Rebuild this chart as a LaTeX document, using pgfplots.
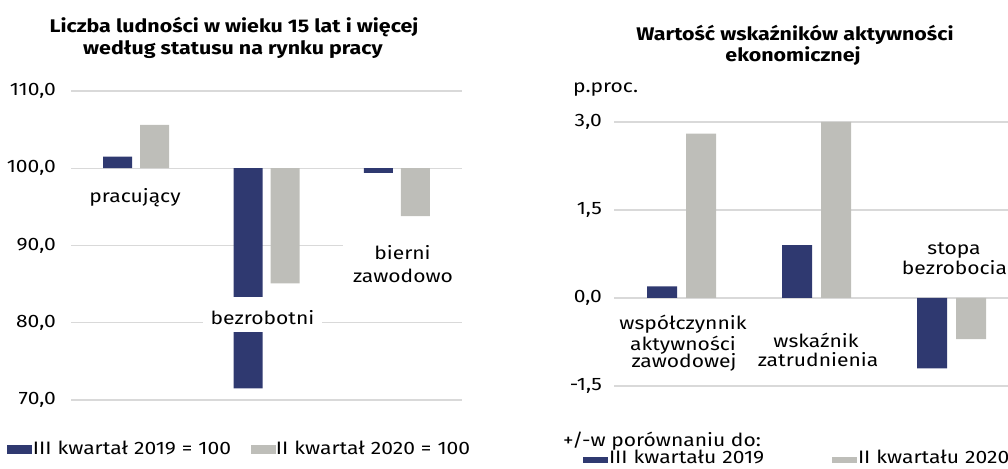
\documentclass[border=0pt]{standalone}
\usepackage{pgfplots}
\pgfplotsset{compat=1.18}
\usepackage{fontspec}
\setmainfont{Fira Sans}[FakeStretch=1.17]
\definecolor{navy}{RGB}{47,57,112}
\definecolor{lgray}{RGB}{190,190,185}
\definecolor{gridc}{RGB}{217,217,217}
\newcommand\fs[1]{\fontsize{#1}{#1}\selectfont}
\pgfplotsset{
  sqLb/.style={legend image code/.code={\fill[navy] (0pt,-6.5pt) rectangle (25pt,3pt);}},
  sqLg/.style={legend image code/.code={\fill[lgray] (0pt,-6.5pt) rectangle (25pt,3pt);}},
  sqRb/.style={legend image code/.code={\fill[navy] (0pt,-6.5pt) rectangle (25pt,-0.5pt);}},
  sqRg/.style={legend image code/.code={\fill[lgray] (0pt,-6.5pt) rectangle (25pt,-0.5pt);}},
  common/.style={
    scale only axis,
    xmin=-0.5, xmax=2.5,
    xtick=\empty,
    ymajorgrids,
    grid style={draw=gridc, line width=1.3pt},
    axis line style={draw=none},
    major tick length=0pt,
    yticklabel style={anchor=east, inner sep=0pt, font=\fs{18}},
    legend style={draw=none, fill=none, inner sep=0pt, outer sep=0pt,
      anchor=south west, legend columns=2, column sep=0pt, font=\fs{18},
      nodes={inner sep=0pt, text depth=0pt, text height=13pt, align=left}},
  },
}
\begin{document}
\begin{tikzpicture}
\useasboundingbox (0pt,0pt) rectangle (1008pt,468pt);
\clip (0pt,0pt) rectangle (1008pt,468pt);
% ---------------- left chart ----------------
\begin{axis}[common,
  at={(71pt,68pt)}, anchor=south west,
  width=391pt, height=309pt,
  ymin=70, ymax=110,
  y coord trafo/.code={\pgfmathparse{#1-100}},
  y coord inv trafo/.code={\pgfmathparse{#1+100}},
  ytick={70,80,90,100,110},
  yticklabels={{70,0},{80,0},{90,0},{100,0},{110,0}},
  yticklabel shift=15pt,
  ybar=8pt, bar width=29pt,
  legend style={at={(-0.1637,-0.1748)}, nodes={text width=219pt}},
]
\addplot[fill=navy, draw=none, sqLb] coordinates {(0,101.5) (1,71.5) (2,99.4)};
\addlegendentry{\hspace{1pt}III kwartał 2019 = 100}
\addplot[fill=lgray, draw=none, sqLg] coordinates {(0,105.6) (1,85.1) (2,93.8)};
\addlegendentry{II kwartał 2020 = 100}
\end{axis}
% ---------------- right chart ----------------
\begin{axis}[common,
  at={(614pt,82pt)}, anchor=south west,
  width=405pt, height=264pt,
  ymin=-1.5, ymax=3.0,
  ytick={-1.5,0,1.5,3},
  yticklabels={{-1,5},{0,0},{1,5},{3,0}},
  yticklabel shift=12pt,
  ybar=9pt, bar width=30pt,
  legend style={at={(-0.0765,-0.2917)}, nodes={text width=224pt}},
]
\addplot[fill=navy, draw=none, sqRb] coordinates {(0,0.2) (1,0.9) (2,-1.2)};
\addlegendentry{\hspace{1pt}III kwartału 2019}
\addplot[fill=lgray, draw=none, sqRg] coordinates {(0,2.8) (1,3.0) (2,-0.7)};
\addlegendentry{\hspace{1pt}II kwartału 2020}
\end{axis}
% ---------------- texts ----------------
\node[anchor=base, font=\bfseries\fs{18.3}] at (234pt,435.5pt) {Liczba ludności w wieku 15 lat i więcej};
\node[anchor=base, font=\bfseries\fs{18.3}] at (233pt,413pt) {według statusu na rynku pracy};
\node[anchor=base, font=\bfseries\fs{18.3}] at (795pt,427.3pt) {Wartość wskaźników aktywności};
\node[anchor=base, font=\bfseries\fs{18.3}] at (793pt,406.3pt) {ekonomicznej};
\node[anchor=base west, font=\fs{18}, inner sep=0pt] at (573pt,375pt) {p.proc.};
% left categories
\node[anchor=base, font=\fs{18}, inner sep=0pt] at (135pt,265pt) {pracujący};
\node[anchor=base, font=\fs{18}, inner sep=0pt, fill=white, text height=28pt, text depth=7pt, minimum width=119pt] at (262.5pt,143pt) {bezrobotni};
\node[anchor=base, font=\fs{18}, inner sep=0pt, fill=white, text height=18pt, text depth=3pt, minimum width=119pt] at (402.5pt,208pt) {bierni};
\node[anchor=base, font=\fs{18}, inner sep=0pt] at (403pt,185pt) {zawodowo};
% right categories
\node[anchor=base, font=\fs{18}, inner sep=0pt] at (683pt,138pt) {współczynnik};
\node[anchor=base, font=\fs{18}, inner sep=0pt] at (683pt,117.3pt) {aktywności};
\node[anchor=base, font=\fs{18}, inner sep=0pt] at (684pt,100pt) {zawodowej};
\node[anchor=base, font=\fs{18}, inner sep=0pt] at (816pt,120pt) {wskaźnik};
\node[anchor=base, font=\fs{18}, inner sep=0pt] at (818pt,101pt) {zatrudnienia};
\node[anchor=base, font=\fs{18}, inner sep=0pt] at (954pt,213pt) {stopa};
\node[anchor=base, font=\fs{18}, inner sep=0pt] at (954.5pt,193pt) {bezrobocia};
\node[anchor=base west, font=\fs{18}, inner sep=0pt] at (563pt,22pt) {+/-w porównaniu do:};
\end{tikzpicture}
\end{document}
